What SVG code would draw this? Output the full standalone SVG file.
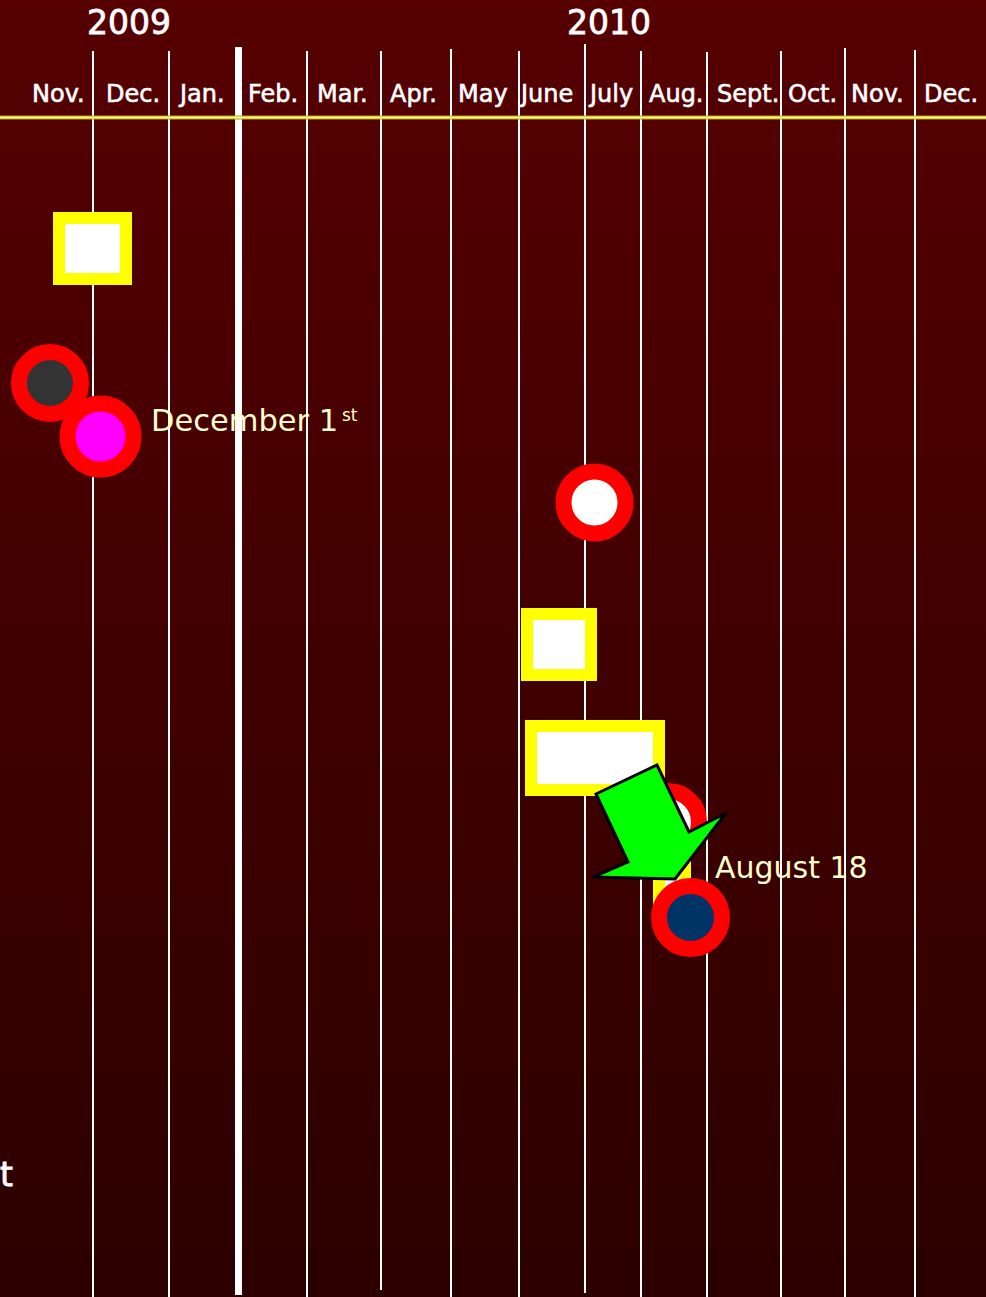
<svg xmlns="http://www.w3.org/2000/svg" width="986" height="1297" viewBox="0 0 986 1297">
  <defs>
    <linearGradient id="bg" x1="0" y1="0" x2="0" y2="1">
      <stop offset="0" stop-color="#560000"/>
      <stop offset="1" stop-color="#2c0000"/>
    </linearGradient>
    <style>
      .grid { stroke: #ffffff; stroke-width: 2; fill: none; }
      .month { font-family: "DejaVu Sans", sans-serif; font-size: 24px; fill: #ffffff; stroke: #ffffff; stroke-width: 0.6; }
      .year { font-family: "DejaVu Sans", sans-serif; font-size: 33px; fill: #ffffff; stroke: #ffffff; stroke-width: 0.8; }
      .label { font-family: "DejaVu Sans", sans-serif; font-size: 30px; fill: #ffffcc; }
      .label-dec { font-family: "DejaVu Sans", sans-serif; font-size: 30.5px; fill: #ffffcc; }
      .sup { font-family: "DejaVu Sans", sans-serif; font-size: 17px; fill: #ffffcc; }
      .box { fill: #ffffff; stroke: #ffff00; stroke-width: 12; }
      .ring { stroke: #ff0000; stroke-width: 16; }
    </style>
  </defs>

  <rect x="0" y="0" width="986" height="1297" fill="url(#bg)"/>

  <g id="grid">
    <line class="grid" x1="93" y1="51" x2="93" y2="1297"/>
    <line class="grid" x1="169" y1="51" x2="169" y2="1297"/>
    <line x1="238.5" y1="47" x2="238.5" y2="1295" stroke="#ffffff" stroke-width="7"/>
    <line class="grid" x1="307" y1="51" x2="307" y2="1297"/>
    <line class="grid" x1="381" y1="51" x2="381" y2="1290"/>
    <line class="grid" x1="451" y1="49" x2="451" y2="1297"/>
    <line class="grid" x1="519" y1="51" x2="519" y2="1297"/>
    <line class="grid" x1="585" y1="44" x2="585" y2="1293"/>
    <line class="grid" x1="641" y1="51" x2="641" y2="1297"/>
    <line class="grid" x1="707" y1="52" x2="707" y2="1297"/>
    <line class="grid" x1="781" y1="51" x2="781" y2="1297"/>
    <line class="grid" x1="845" y1="48" x2="845" y2="1297"/>
    <line class="grid" x1="915" y1="50" x2="915" y2="1297"/>
  </g>

  <g id="axis">
    <line x1="0" y1="117.5" x2="986" y2="117.5" stroke="#b89a10" stroke-width="4"/>
    <line x1="0" y1="117.5" x2="986" y2="117.5" stroke="#ffff88" stroke-width="2"/>
  </g>

  <g id="years">
    <text class="year" x="87" y="34">2009</text>
    <text class="year" x="567" y="34">2010</text>
  </g>

  <g id="months">
    <text class="month" x="32" y="102">Nov.</text>
    <text class="month" x="106" y="102">Dec.</text>
    <text class="month" x="180" y="102">Jan.</text>
    <text class="month" x="248" y="102">Feb.</text>
    <text class="month" x="317" y="102">Mar.</text>
    <text class="month" x="390" y="102">Apr.</text>
    <text class="month" x="458" y="102">May</text>
    <text class="month" x="521" y="102">June</text>
    <text class="month" x="590" y="102">July</text>
    <text class="month" x="649" y="102">Aug.</text>
    <text class="month" x="717" y="102">Sept.</text>
    <text class="month" x="788" y="102">Oct.</text>
    <text class="month" x="851" y="102">Nov.</text>
    <text class="month" x="924" y="102">Dec.</text>
  </g>

  <g id="box-nov">
    <rect class="box" x="59" y="218" width="67" height="61"/>
  </g>

  <g id="circle-gray">
    <circle class="ring" cx="50" cy="383" r="31" fill="#333333"/>
  </g>

  <g id="circle-magenta">
    <circle class="ring" cx="100.5" cy="436.5" r="33" fill="#ff00ff"/>
  </g>

  <g id="label-dec1">
    <text class="label-dec" x="151" y="431">December 1</text>
    <text class="sup" x="342" y="421">st</text>
  </g>

  <g id="circle-white-july">
    <circle class="ring" cx="594.5" cy="502.5" r="31" fill="#ffffff"/>
  </g>

  <g id="box-june">
    <rect class="box" x="527" y="614" width="64" height="61"/>
  </g>

  <g id="box-june-july">
    <rect class="box" x="531" y="726" width="128" height="64"/>
  </g>

  <g id="circle-white-aug">
    <circle class="ring" cx="668" cy="822" r="31" fill="#ffffff"/>
  </g>

  <g id="box-aug">
    <rect class="box" x="659" y="850" width="26" height="60"/>
  </g>

  <g id="circle-navy">
    <circle class="ring" cx="690.5" cy="917.5" r="31.5" fill="#003366"/>
  </g>

  <g id="label-aug18">
    <text class="label" x="715" y="878">August 18</text>
  </g>

  <g id="connectors">
    <polygon points="596,794 657,765 689,832 726,813 675,879 593,877 628,862" fill="#00ff00" stroke="#000000" stroke-width="3" stroke-linejoin="miter"/>
  </g>

  <g id="partial-text">
    <text class="year" x="0" y="1186">t</text>
  </g>
</svg>
